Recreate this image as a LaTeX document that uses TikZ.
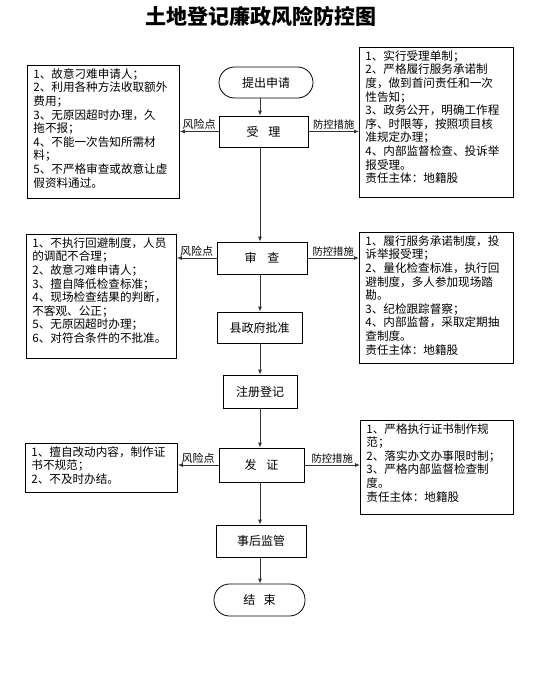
\documentclass[tikz,border=0pt]{standalone}
\usepackage{fontspec}
\setmainfont{Noto Sans CJK SC}
\usetikzlibrary{arrows.meta}
\newcommand{\sidepar}[3]{\parbox[c][#2][t]{#1}{\raggedright #3}}
\begin{document}
\begin{tikzpicture}[x=1pt,y=-1pt,
  stepbox/.style={draw, line width=0.8pt, inner sep=0pt, font=\fontsize{12}{14}\selectfont},
  capsule/.style={stepbox, rounded corners=15.5pt},
  sidebox/.style={draw, line width=0.8pt, inner xsep=6pt, inner ysep=3pt, anchor=north west,
    font=\fontsize{11.6}{13.6}\selectfont},
  conn/.style={draw=black!80, line width=0.8pt, -{Latex[length=5pt,width=4pt]}},
  risklbl/.style={midway, above, inner sep=1.5pt, font=\fontsize{11}{11}\selectfont},
  ctrllbl/.style={midway, above, inner sep=1.5pt, font=\fontsize{10.3}{11}\selectfont}
]
\useasboundingbox (0,0) rectangle (535,675);
\node[font=\fontsize{21}{21}\selectfont\bfseries] (title) at (261,16) {土地登记廉政风险防控图};

% main column
\node[capsule, minimum width=94pt, minimum height=31pt] (start) at (266,82.5) {提出申请};
\node[stepbox, minimum width=89pt, minimum height=31pt] (accept) at (263.5,131.5) {受\hspace{0.8em}理};
\node[stepbox, minimum width=90pt, minimum height=32pt] (review) at (262,258) {审\hspace{0.9em}查};
\node[stepbox, minimum width=85pt, minimum height=31pt] (approve) at (259.5,327.5) {县政府批准};
\node[stepbox, minimum width=74pt, minimum height=33pt] (register) at (260,391.5) {注册登记};
\node[stepbox, minimum width=85pt, minimum height=34pt] (issue) at (261.5,465) {发\hspace{0.8em}证};
\node[stepbox, minimum width=90pt, minimum height=32pt] (supervise) at (261,541) {事后监管};
\node[capsule, minimum width=91pt, minimum height=32pt] (finish) at (259.5,600) {结\hspace{0.7em}束};

% side boxes
\node[sidebox] (L1) at (27,65) {\sidepar{140pt}{127pt}{1、故意刁难申请人；\\2、利用各种方法收取额外\\费用；\\3、无原因超时办理，久\\拖不报；\\4、不能一次告知所需材\\料；\\5、不严格审查或故意让虚\\假资料通过。}};
\node[sidebox] (R1) at (359,47) {\sidepar{142pt}{144pt}{1、实行受理单制；\\2、严格履行服务承诺制\\度，做到首问责任和一次\\性告知；\\3、政务公开，明确工作程\\序、时限等，按照项目核\\准规定办理；\\4、内部监督检查、投诉举\\报受理。\\责任主体：地籍股}};
\node[sidebox] (L2) at (26,234) {\sidepar{138pt}{118pt}{1、不执行回避制度，人员\\的调配不合理；\\2、故意刁难申请人；\\3、擅自降低检查标准；\\4、现场检查结果的判断，\\不客观、公正；\\5、无原因超时办理；\\6、对符合条件的不批准。}};
\node[sidebox] (R2) at (359,232) {\sidepar{142pt}{125pt}{1、履行服务承诺制度，投\\诉举报受理；\\2、量化检查标准，执行回\\避制度，多人参加现场踏\\勘。\\3、纪检跟踪督察；\\4、内部监督，采取定期抽\\查制度。\\责任主体：地籍股}};
\node[sidebox] (L3) at (25,443) {\sidepar{140pt}{43pt}{1、擅自改动内容，制作证\\书不规范；\\2、不及时办结。}};
\node[sidebox] (R3) at (360,420) {\sidepar{141pt}{88pt}{1、严格执行证书制作规\\范；\\2、落实办文办事限时制；\\3、严格内部监督检查制\\度。\\责任主体：地籍股}};

% vertical flow
\coordinate (ax) at (260,0);
\draw[conn] (start.south -| ax) -- (accept.north -| ax);
\draw[conn] (accept.south -| ax) -- (review.north -| ax);
\draw[conn] (review.south -| ax) -- (approve.north -| ax);
\draw[conn] (approve.south -| ax) -- (register.north -| ax);
\draw[conn] (register.south -| ax) -- (issue.north -| ax);
\draw[conn] (issue.south -| ax) -- (supervise.north -| ax);
\draw[conn] (supervise.south -| ax) -- (finish.north -| ax);

% horizontal links
\draw[conn] (accept.west) -- (accept.west -| L1.east) node[risklbl] (rl1) {风险点};
\draw[conn] (accept.east) -- (accept.east -| R1.west) node[ctrllbl] (cl1) {防控措施};
\draw[conn] (review.west) -- (review.west -| L2.east) node[risklbl] (rl2) {风险点};
\draw[conn] (review.east) -- (review.east -| R2.west) node[ctrllbl] (cl2) {防控措施};
\draw[conn] (issue.west) -- (issue.west -| L3.east) node[risklbl] (rl3) {风险点};
\draw[conn] (issue.east) -- (issue.east -| R3.west) node[ctrllbl] (cl3) {防控措施};
\end{tikzpicture}
\end{document}
